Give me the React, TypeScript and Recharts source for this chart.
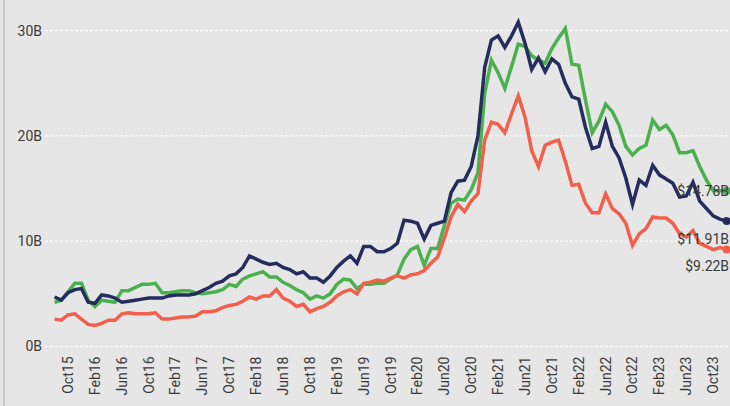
import React from 'react';
import { LineChart, Line, XAxis, YAxis, CartesianGrid } from 'recharts';

const MONTH_NAMES = ['Jan', 'Feb', 'Mar', 'Apr', 'May', 'Jun', 'Jul', 'Aug', 'Sep', 'Oct', 'Nov', 'Dec'];
const START_YEAR = 2015;
const START_MONTH = 7; // Aug
const MONTH_COUNT = 101; // Aug15 .. Dec23

const CATEGORIES: string[] = [];
for (let i = 0; i < MONTH_COUNT; i++) {
  const m = (START_MONTH + i) % 12;
  const y = START_YEAR + Math.floor((START_MONTH + i) / 12);
  CATEGORIES.push(`${MONTH_NAMES[m]}${String(y).slice(2)}`);
}

const TICK_LABELS = [
  'Oct15', 'Feb16', 'Jun16', 'Oct16', 'Feb17', 'Jun17', 'Oct17', 'Feb18', 'Jun18',
  'Oct18', 'Feb19', 'Jun19', 'Oct19', 'Feb20', 'Jun20', 'Oct20', 'Feb21', 'Jun21',
  'Oct21', 'Feb22', 'Jun22', 'Oct22', 'Feb23', 'Jun23', 'Oct23',
];

const Y_TICKS = [0, 10, 20, 30];

const GREEN_VALUES = [
  4.2, 4.4, 5.2, 6.0, 6.0, 4.4, 3.8, 4.4, 4.3, 4.2,
  5.3, 5.3, 5.6, 5.9, 5.9, 6.0, 5.1, 5.1, 5.2, 5.3,
  5.3, 5.1, 5.0, 5.1, 5.2, 5.4, 5.9, 5.7, 6.4, 6.7,
  6.9, 7.1, 6.6, 6.6, 6.1, 5.8, 5.4, 5.1, 4.5, 4.8,
  4.6, 5.0, 5.9, 6.4, 6.3, 5.5, 5.9, 5.9, 6.0, 6.0,
  6.4, 6.8, 8.3, 9.2, 9.5, 7.7, 9.3, 9.3, 11.5, 13.6,
  14.0, 13.9, 14.9, 16.5, 24.0, 27.2, 26.0, 24.5, 26.6, 28.7,
  28.5, 27.6, 27.2, 26.9, 28.3, 29.3, 30.2, 26.8, 26.7, 23.4,
  20.3, 21.4, 23.0, 22.3, 21.0, 19.0, 18.2, 18.8, 19.1, 21.5,
  20.6, 21.0, 20.1, 18.4, 18.4, 18.6, 17.1, 15.8, 14.8, 14.8,
  14.78,
];

const NAVY_VALUES = [
  4.7, 4.4, 5.1, 5.4, 5.5, 4.2, 4.1, 4.9, 4.8, 4.6,
  4.2, 4.3, 4.4, 4.5, 4.6, 4.6, 4.6, 4.8, 4.9, 4.9,
  4.9, 5.0, 5.3, 5.6, 6.0, 6.2, 6.7, 6.9, 7.5, 8.6,
  8.3, 8.0, 7.8, 7.9, 7.5, 7.3, 6.9, 7.1, 6.5, 6.5,
  6.1, 6.7, 7.5, 8.1, 8.6, 7.9, 9.5, 9.5, 9.0, 9.0,
  9.3, 9.8, 12.0, 11.9, 11.7, 10.2, 11.5, 11.7, 11.9, 14.6,
  15.7, 15.8, 17.1, 20.0, 26.5, 29.1, 29.5, 28.4, 29.5, 30.8,
  28.8, 26.3, 27.4, 26.1, 27.3, 26.8, 25.0, 23.7, 23.5, 20.8,
  18.8, 19.0, 21.3, 19.0, 17.9, 16.0, 13.5, 15.8, 15.3, 17.2,
  16.3, 15.9, 15.5, 14.2, 14.3, 15.6, 13.8, 13.1, 12.4, 12.1,
  11.91,
];

const RED_VALUES = [
  2.6, 2.5, 3.0, 3.1, 2.6, 2.1, 2.0, 2.2, 2.5, 2.5,
  3.1, 3.2, 3.1, 3.1, 3.1, 3.2, 2.6, 2.6, 2.7, 2.8,
  2.8, 2.9, 3.3, 3.3, 3.4, 3.7, 3.9, 4.0, 4.3, 4.7,
  4.5, 4.8, 4.8, 5.4, 4.6, 4.3, 3.8, 4.0, 3.3, 3.6,
  3.8, 4.2, 4.8, 5.2, 5.4, 5.0, 6.0, 6.1, 6.3, 6.2,
  6.5, 6.7, 6.5, 6.8, 6.9, 7.2, 7.9, 8.5, 10.3, 12.3,
  13.5, 12.8, 13.8, 14.5, 19.6, 21.3, 21.1, 20.3, 22.1, 23.8,
  21.8, 18.6, 17.1, 19.1, 19.4, 19.6, 17.6, 15.3, 15.4, 13.6,
  12.7, 12.7, 14.5, 13.1, 12.6, 11.7, 9.6, 10.7, 11.2, 12.3,
  12.2, 12.2, 11.7, 10.7, 10.4, 11.0, 9.8, 9.5, 9.2, 9.4,
  9.22,
];

const END_LABELS = ['$14.78B', '$11.91B', '$9.22B'];

const GREEN = '#4bb14e';
const NAVY = '#252d5e';
const RED = '#f2604b';
const TEXT = '#3a3a3a';
const FONT = 'Roboto, "DejaVu Sans", sans-serif';

const data = CATEGORIES.map((month, i) => ({
  month,
  green: GREEN_VALUES[i],
  navy: NAVY_VALUES[i],
  red: RED_VALUES[i],
}));

const LAST = data.length - 1;

const XTick = (props: any) => {
  const { x, y, payload } = props;
  return (
    <g transform={`translate(${x},${y})`}>
      <text
        transform="rotate(-90)"
        textAnchor="end"
        dy="0.35em"
        fill={TEXT}
        fontSize={14}
        fontFamily={FONT}
      >
        {payload.value}
      </text>
    </g>
  );
};

const endDot = (color: string) => (props: any) => {
  const { cx, cy, index } = props;
  if (index !== LAST) return <g key={`d-${index}`} />;
  return <circle key={`d-${index}`} cx={cx} cy={cy} r={4} fill={color} stroke="none" />;
};

const endLabel = (text: string, dy: number) => (props: any) => {
  const { x, y, index } = props;
  if (index !== LAST) return <g key={`l-${index}`} />;
  return (
    <text
      key={`l-${index}`}
      x={x + 2.5}
      y={y + dy}
      dy="0.35em"
      textAnchor="end"
      fill={TEXT}
      fontSize={14}
      fontFamily={FONT}
    >
      {text}
    </text>
  );
};

export default function App() {
  return (
    <div
      style={{
        position: 'absolute',
        left: 0,
        top: 0,
        width: 730,
        height: 406,
        overflow: 'hidden',
        background: '#e6e6e6',
      }}
    >
      <div
        style={{
          position: 'absolute',
          left: 3,
          top: 0,
          width: 2,
          height: 406,
          background: '#c8c8c8',
        }}
      />
      <div style={{ position: 'absolute', left: 0, top: 0 }}>
        <LineChart
          width={740}
          height={406}
          data={data}
          margin={{ top: 9.5, right: 0, bottom: 0, left: 0 }}
        >
          <CartesianGrid
            vertical={false}
            horizontalValues={Y_TICKS}
            stroke="#ffffff"
            strokeDasharray="3 2"
          />
          <XAxis
            dataKey="month"
            ticks={TICK_LABELS}
            interval={0}
            tick={<XTick />}
            tickLine={false}
            axisLine={false}
            tickSize={0}
            tickMargin={10}
            height={59.5}
            padding={{ left: 9.6, right: 13.4 }}
          />
          <YAxis
            domain={[0, 32]}
            ticks={Y_TICKS}
            tickFormatter={(v: number) => `${v}B`}
            width={45}
            axisLine={false}
            tickLine={false}
            tickSize={3}
            tickMargin={0}
            tick={{ fill: TEXT, fontSize: 14, fontFamily: FONT }}
          />
          <Line
            type="linear"
            dataKey="green"
            stroke={GREEN}
            strokeWidth={3.5}
            dot={endDot(GREEN)}
            activeDot={false}
            label={endLabel(END_LABELS[0], 0)}
            isAnimationActive={false}
          />
          <Line
            type="linear"
            dataKey="red"
            stroke={RED}
            strokeWidth={3.5}
            dot={endDot(RED)}
            activeDot={false}
            label={endLabel(END_LABELS[2], 16.6)}
            isAnimationActive={false}
          />
          <Line
            type="linear"
            dataKey="navy"
            stroke={NAVY}
            strokeWidth={3.5}
            dot={endDot(NAVY)}
            activeDot={false}
            label={endLabel(END_LABELS[1], 18)}
            isAnimationActive={false}
          />
        </LineChart>
      </div>
    </div>
  );
}
